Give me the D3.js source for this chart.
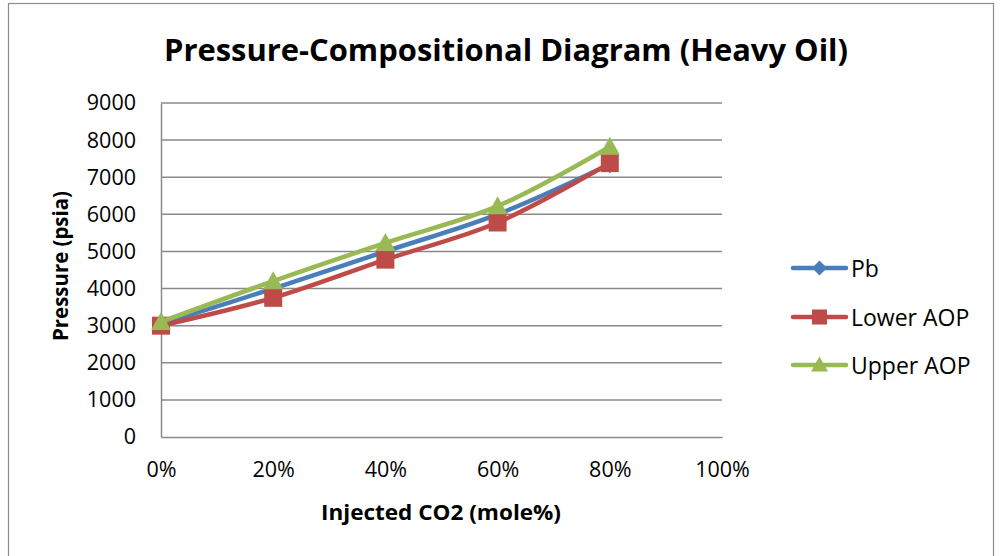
<!DOCTYPE html>
<html>
<head>
<meta charset="utf-8">
<script src="https://cdn.jsdelivr.net/npm/d3@7"></script>
<style>
  html, body { margin: 0; padding: 0; background: #fff; }
  svg { display: block; font-family: "Open Sans", "Liberation Sans", sans-serif; }
</style>
</head>
<body>
<svg id="chart" width="1000" height="556"></svg>
<script>
// CO2 injected (mole fraction) and pressures in psia
const co2Fraction = [0, 0.2, 0.4, 0.6, 0.8];
const pb = [3050, 4000, 5000, 6000, 7350];
const lowerAOP = [3000, 3750, 4780, 5780, 7380];
const upperAOP = [3100, 4200, 5230, 6220, 7820];
const seriesNames = ["Pb", "Lower AOP", "Upper AOP"];
const xTicks = [0, 0.2, 0.4, 0.6, 0.8, 1.0];
const yTicks = [0, 1000, 2000, 3000, 4000, 5000, 6000, 7000, 8000, 9000];

const colors = ["#4A7EBB", "#BE4B48", "#98B954"];
const markerShapes = ["diamond", "square", "triangle"];

const svg = d3.select("#chart");
const plot = { left: 161, right: 722, top: 103, bottom: 437 };

// Outer chart frame
svg.append("rect")
  .attr("x", 8.5).attr("y", 3.5).attr("width", 985).attr("height", 570)
  .attr("fill", "#fff").attr("stroke", "#8c8c8c").attr("stroke-width", 1.2);

const x = d3.scaleLinear().domain([0, 1]).range([plot.left, plot.right]);
const y = d3.scaleLinear().domain([0, 9000]).range([plot.bottom, plot.top]);

// Horizontal gridlines
svg.append("g").selectAll("line").data(yTicks.filter(d => d > 0)).join("line")
  .attr("x1", plot.left).attr("x2", plot.right)
  .attr("y1", d => y(d)).attr("y2", d => y(d))
  .attr("stroke", "#8a8a8a").attr("stroke-width", 1.5);

// Y axis
const yAxis = svg.append("g")
  .attr("transform", `translate(${plot.left},0)`)
  .call(d3.axisLeft(y).tickValues(yTicks).tickSize(0).tickPadding(25).tickFormat(d3.format("d")));
yAxis.select(".domain").attr("stroke", "#8a8a8a").attr("stroke-width", 1.5);
yAxis.selectAll("text").attr("font-size", 21.5).attr("fill", "#000")
  .attr("font-family", "'Open Sans', sans-serif");

// X axis
const xAxis = svg.append("g")
  .attr("transform", `translate(0,${plot.bottom})`)
  .call(d3.axisBottom(x).tickValues(xTicks).tickSize(0).tickPadding(25).tickFormat(d3.format(".0%")));
xAxis.select(".domain").attr("stroke", "#8a8a8a").attr("stroke-width", 1.5);
xAxis.selectAll("text").attr("font-size", 21.5).attr("fill", "#000")
  .attr("font-family", "'Open Sans', sans-serif");

// Title
svg.append("text")
  .attr("x", 506).attr("y", 61)
  .attr("text-anchor", "middle")
  .attr("font-size", 30).attr("font-weight", "bold")
  .attr("textLength", 684).attr("lengthAdjust", "spacingAndGlyphs")
  .text("Pressure-Compositional Diagram (Heavy Oil)");

// Axis titles
svg.append("text")
  .attr("x", 441).attr("y", 520)
  .attr("text-anchor", "middle")
  .attr("font-size", 20.5).attr("font-weight", "bold")
  .attr("textLength", 240).attr("lengthAdjust", "spacingAndGlyphs")
  .text("Injected CO2 (mole%)");

svg.append("text")
  .attr("transform", "translate(68,266) rotate(-90)")
  .attr("text-anchor", "middle")
  .attr("font-size", 20.5).attr("font-weight", "bold")
  .attr("textLength", 150).attr("lengthAdjust", "spacingAndGlyphs")
  .text("Pressure (psia)");

function markerPath(shape, size) {
  const h = size / 2;
  if (shape === "diamond") return `M0,${-h}L${h},0L0,${h}L${-h},0Z`;
  if (shape === "square") return `M${-h},${-h}H${h}V${h}H${-h}Z`;
  return `M0,${-h - 1}L${h + 1},${h - 1}L${-h - 1},${h - 1}Z`;
}

const allSeries = [pb, lowerAOP, upperAOP];
const line = d3.line()
  .x((d, i) => x(co2Fraction[i]))
  .y(d => y(d))
  .curve(d3.curveCatmullRom.alpha(0.5));

allSeries.forEach((vals, si) => {
  const g = svg.append("g");
  g.append("path")
    .attr("d", line(vals))
    .attr("fill", "none")
    .attr("stroke", colors[si])
    .attr("stroke-width", 4.5)
    .attr("stroke-linejoin", "round")
    .attr("stroke-linecap", "round");
  g.selectAll("path.m").data(vals).join("path")
    .attr("class", "m")
    .attr("transform", (d, i) => `translate(${x(co2Fraction[i])},${y(d)})`)
    .attr("d", markerPath(markerShapes[si], 18))
    .attr("fill", colors[si]);
});

// Legend
const legendY = [268, 317, 365];
seriesNames.forEach((name, i) => {
  const g = svg.append("g").attr("transform", `translate(0,${legendY[i]})`);
  g.append("line")
    .attr("x1", 793).attr("x2", 846).attr("y1", 0).attr("y2", 0)
    .attr("stroke", colors[i]).attr("stroke-width", 4.5).attr("stroke-linecap", "round");
  g.append("path")
    .attr("transform", "translate(819.5,0)")
    .attr("d", markerPath(markerShapes[i], 15))
    .attr("fill", colors[i]);
  g.append("text")
    .attr("x", 851).attr("y", 8.5)
    .attr("font-size", 23)
    .text(name);
});
</script>
</body>
</html>
